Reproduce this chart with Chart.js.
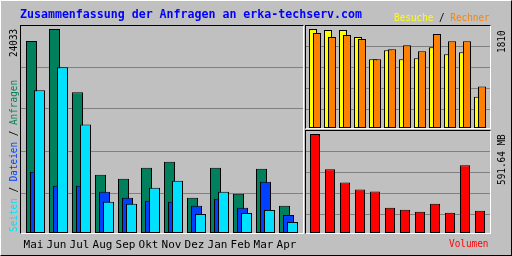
<!DOCTYPE html>
<html>
<head>
<meta charset="utf-8">
<script src="https://cdn.jsdelivr.net/npm/chart.js@4.4.0/dist/chart.umd.min.js"></script>
<style>
  html, body { margin: 0; padding: 0; background: #c0c0c0; }
  #wrap { position: relative; width: 512px; height: 256px; overflow: hidden; background: #c0c0c0; }
  #frame { position: absolute; left: 0; top: 0; width: 512px; height: 256px; box-sizing: border-box;
    border-top: 1px solid #fff; border-left: 1px solid #fff; border-right: 1px solid #000; border-bottom: 1px solid #000; }
  .panel { position: absolute; box-sizing: border-box;
    border-top: 1px solid #000; border-left: 1px solid #000; border-right: 1px solid #fff; border-bottom: 1px solid #fff; }
  canvas { position: absolute; left: 0; top: 0; }
  .t { position: absolute; white-space: nowrap; font-family: "DejaVu Sans Mono", monospace;
    font-size: 11px; line-height: 11px; transform-origin: 0 0; color: #000; }
  .up { transform: rotate(-90deg) scaleX(.85); }
  .h { transform: scaleX(.85); }
  #title { font-weight: bold; font-size: 11.6px; line-height: 11.6px; color: #0000ff; left: 20px; top: 9.3px; }
</style>
</head>
<body>
<div id="wrap">
  <div id="frame"></div>
  <div class="panel" style="left:20px;top:25px;width:284px;height:209px"></div>
  <div class="panel" style="left:305px;top:25px;width:186px;height:104px"></div>
  <div class="panel" style="left:305px;top:130px;width:186px;height:104px"></div>
  <canvas id="main" width="512" height="256"></canvas>
  <canvas id="visits" width="512" height="256"></canvas>
  <canvas id="volume" width="512" height="256"></canvas>
  <div class="t" id="title">Zusammenfassung der Anfragen an erka-techserv.com</div>
  <div class="t h" style="left:393.5px;top:12px"><span style="color:#ffff00">Besuche</span> / <span style="color:#ff8000">Rechner</span></div>
  <div class="t h" style="left:449px;top:238px;color:#ff0000">Volumen</div>
  <div class="t up" style="left:7.7px;top:232px"><span style="color:#00e0ff">Seiten</span> / <span style="color:#0040ff">Dateien</span> / <span style="color:#00805c">Anfragen</span></div>
  <div class="t up" id="maxHits" style="left:7.7px;top:57px"></div>
  <div class="t up" id="maxVisits" style="left:495.7px;top:53px"></div>
  <div class="t up" id="maxVolume" style="left:495.7px;top:185px"></div>
</div>
<script>
const months = ['Mai', 'Jun', 'Jul', 'Aug', 'Sep', 'Okt', 'Nov', 'Dez', 'Jan', 'Feb', 'Mar', 'Apr']
const hits = [22613, 24033, 16575, 6867, 6393, 7695, 8406, 4144, 7695, 4617, 7577, 3197]
const files = [7222, 5564, 5564, 4854, 4144, 3788, 3670, 3197, 4025, 2960, 6038, 2131]
const pages = [16811, 19534, 12786, 3670, 3433, 5328, 6156, 2249, 4854, 2368, 2723, 1302]
const visits = [1810, 1791, 1791, 1662, 1256, 1422, 1256, 1274, 1478, 1348, 1385, 573]
const sites = [1736, 1662, 1699, 1625, 1256, 1441, 1514, 1404, 1718, 1588, 1588, 757]
const volumeMB = [591.64, 380.3, 301.9, 259.6, 247.5, 150.9, 138.9, 126.8, 175.1, 120.7, 404.5, 132.8]

const black = '#000000'
const grid = '#808080'

// pages on top of files on top of hits, like the original
const drawInOrder = {
  id: 'drawInOrder',
  beforeDatasetsDraw (chart) {
    chart.data.datasets.forEach((d, i) => chart.getDatasetMeta(i).controller.draw())
    return false
  }
}

function points (arr) {
  return arr.map((v, i) => ({ x: i, y: v }))
}

// area: chart box in px, base = row of zero, peak = row of the biggest value,
// first = centre of the first month, pitch = px per month
function makeChart (id, area, datasets, showMonths) {
  const max = Math.max(...datasets.flatMap(d => d.data.map(p => p.y)))
  const perPx = max / (area.base - area.peak)
  const yMin = (area.base - area.bottom) * perPx
  const yMax = (area.base - area.top) * perPx
  const step = (yMax - yMin) / 5
  const xMin = -(area.first - area.left) / area.pitch
  const xMax = xMin + (area.right - area.left) / area.pitch
  const below = 256 - area.bottom

  // eslint-disable-next-line no-undef
  return new Chart(document.getElementById(id), {
    type: 'bar',
    data: { datasets },
    plugins: [drawInOrder],
    options: {
      responsive: false,
      animation: false,
      devicePixelRatio: 1,
      layout: { padding: { left: area.left, right: 512 - area.right, top: area.top, bottom: 0 } },
      plugins: { legend: { display: false }, tooltip: { enabled: false } },
      datasets: { bar: { borderColor: black, borderWidth: 1, borderSkipped: false, inflateAmount: 0 } },
      scales: {
        x: {
          type: 'linear',
          offset: false,
          bounds: 'data',
          min: xMin,
          max: xMax,
          grid: { display: false, drawTicks: false, offset: false },
          border: { display: false },
          afterBuildTicks: s => { s.ticks = months.map((m, i) => ({ value: i })) },
          afterFit: s => { s.height = below },
          ticks: {
            display: showMonths,
            autoSkip: false,
            maxRotation: 0,
            padding: 4,
            labelOffset: -2,
            color: black,
            font: { family: 'DejaVu Sans Mono', size: 11 },
            callback: v => months[v]
          }
        },
        y: {
          bounds: 'data',
          min: yMin,
          max: yMax,
          afterBuildTicks: s => { s.ticks = [1, 2, 3, 4].map(j => ({ value: yMin + j * step })) },
          afterFit: s => { s.width = 0 },
          grid: { color: grid, drawTicks: false },
          border: { display: false },
          ticks: { display: false }
        }
      }
    }
  })
}

makeChart('main',
  { left: 21, right: 303, top: 25, bottom: 235, base: 233, peak: 29, first: 35.5, pitch: 23 },
  [
    { data: points(hits), backgroundColor: '#00805c', categoryPercentage: 12 / 23, barPercentage: 2.75 },
    { data: points(files), backgroundColor: '#0040ff', categoryPercentage: 12 / 23, barPercentage: 2.75 },
    { data: points(pages), backgroundColor: '#00e0ff', categoryPercentage: 12 / 23, barPercentage: 2.75 }
  ], true)

makeChart('visits',
  { left: 306, right: 490, top: 25, bottom: 130, base: 128, peak: 29, first: 315, pitch: 15 },
  [
    { data: points(visits), backgroundColor: '#ffff00', categoryPercentage: 8 / 15, barPercentage: 2 },
    { data: points(sites), backgroundColor: '#ff8000', categoryPercentage: 8 / 15, barPercentage: 2 }
  ], false)

makeChart('volume',
  { left: 306, right: 490, top: 130, bottom: 235, base: 233, peak: 134, first: 315, pitch: 15 },
  [
    { data: points(volumeMB), backgroundColor: '#ff0000', categoryPercentage: 1, barPercentage: 10 / 15 }
  ], false)

document.getElementById('maxHits').textContent = Math.max(...hits)
document.getElementById('maxVisits').textContent = Math.max(...visits)
document.getElementById('maxVolume').textContent = Math.max(...volumeMB).toFixed(2) + ' MB'
</script>
</body>
</html>
